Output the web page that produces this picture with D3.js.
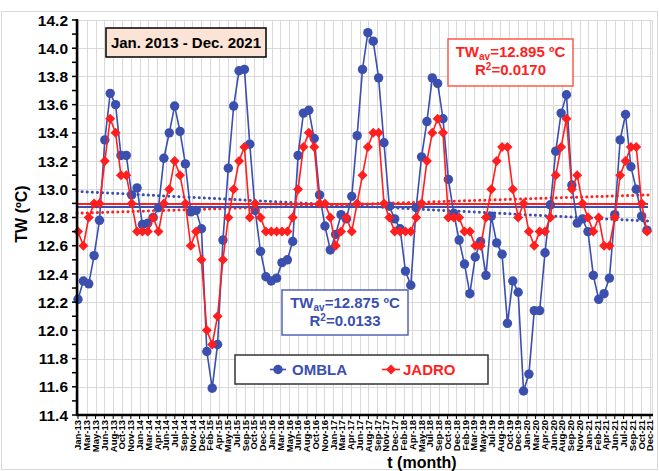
<!DOCTYPE html>
<html>
<head>
<meta charset="utf-8">
<title>OMBLA JADRO</title>
<script src="https://cdnjs.cloudflare.com/ajax/libs/d3/7.8.5/d3.min.js"></script>
<style>
body { margin: 0; background: #fff; font-family: "Liberation Sans", Arial, sans-serif; }
.grid line { stroke: #d9d9d9; stroke-width: 1; shape-rendering: crispEdges; }
.ylab { font-size: 15.5px; font-weight: bold; fill: #000; }
.xlab { font-size: 9.5px; font-weight: bold; fill: #000; }
.title { font-size: 16px; font-weight: bold; fill: #000; }
.box-text { font-size: 15px; font-weight: bold; }
.legend-text { font-size: 15px; font-weight: bold; }
</style>
</head>
<body>
<div class="content"></div>
<script>
// monthly water temperature (107 monthly samples, Jan-13 .. Dec-21)
var ombla = [12.22, 12.35, 12.33, 12.53, 12.78, 13.35, 13.68, 13.60, 13.24, 13.24, 12.96, 13.01,
             12.75, 12.76, 12.80, 12.87, 13.22, 13.40, 13.59, 13.41, 13.18, 12.84, 12.85, 12.72,
             11.85, 11.59, 11.90, 12.64, 13.15, 13.59, 13.84, 13.85, 13.32, 12.85, 12.56, 12.38,
             12.35, 12.37, 12.48, 12.50, 12.63, 13.24, 13.54, 13.56, 13.36, 12.96, 12.74, 12.57,
             12.68, 12.82, 12.79, 12.95, 13.38, 13.85, 14.11, 14.05, 13.79, 13.33, 12.88, 12.79,
             12.72, 12.42, 12.32, 12.87, 13.23, 13.48, 13.79, 13.75, 13.50, 13.07, 12.83, 12.64,
             12.47, 12.26, 12.52, 12.63, 12.39, 12.81, 12.62, 12.54, 12.05, 12.35, 12.27, 11.57,
             11.69, 12.14, 12.14, 12.55, 12.89, 13.27, 13.54, 13.67, 13.03, 12.76, 12.79, 12.70,
             12.39, 12.22, 12.26, 12.37, 12.82, 13.35, 13.53, 13.16, 13.00, 12.81, 12.71];
var jadro = [12.7, 12.6, 12.8, 12.9, 12.9, 13.2, 13.5, 13.4, 13.1, 13.1, 12.9, 12.7,
             12.7, 12.7, 12.8, 12.7, 12.9, 13.0, 13.2, 13.1, 12.9, 12.6, 12.7, 12.5,
             12.0, 11.9, 12.1, 12.5, 12.8, 13.0, 13.2, 13.3, 12.8, 12.9, 12.8, 12.7,
             12.7, 12.7, 12.7, 12.7, 12.8, 13.0, 13.3, 13.4, 13.3, 12.9, 12.9, 12.8,
             12.6, 12.7, 12.8, 12.7, 12.9, 13.1, 13.3, 13.4, 13.4, 12.9, 12.8, 12.7,
             12.7, 12.7, 12.7, 12.8, 12.9, 13.2, 13.4, 13.5, 13.4, 12.8, 12.8, 12.8,
             12.7, 12.7, 12.6, 12.6, 12.8, 13.0, 13.2, 13.3, 13.3, 13.0, 12.8, 12.9,
             12.7, 12.6, 12.7, 12.7, 12.8, 13.1, 13.3, 13.5, 13.0, 13.1, 12.9, 12.8,
             12.7, 12.8, 12.6, 12.6, 12.8, 13.1, 13.2, 13.3, 13.3, 12.9, 12.7];

// averages and linear trend ends (first month, last month)
var omblaMean = 12.875, jadroMean = 12.895;
var omblaTrend = [12.985, 12.775], jadroTrend = [12.83, 12.96];

var xLabels = ["Jan-13","Mar-13","May-13","Jun-13","Aug-13","Oct-13","Nov-13",
  "Jan-14","Mar-14","Apr-14","Jun-14","Jul-14","Sep-14","Nov-14","Dec-14",
  "Feb-15","Apr-15","May-15","Jul-15","Sep-15","Oct-15","Dec-15",
  "Jan-16","Mar-16","May-16","Jun-16","Aug-16","Oct-16","Nov-16",
  "Jan-17","Mar-17","Apr-17","Jun-17","Aug-17","Sep-17","Nov-17","Dec-17",
  "Feb-18","Apr-18","May-18","Jul-18","Sep-18","Oct-18","Dec-18",
  "Feb-19","Mar-19","May-19","Jul-19","Aug-19","Oct-19","Dec-19",
  "Jan-20","Mar-20","Apr-20","Jun-20","Aug-20","Sep-20","Nov-20",
  "Jan-21","Feb-21","Apr-21","Jun-21","Jul-21","Sep-21","Oct-21","Dec-21"];
var yTicks = d3.range(11.4, 14.21, 0.2).map(function (d) { return +d.toFixed(1); });
var yMinor = d3.range(11.4, 14.21, 0.1).map(function (d) { return +d.toFixed(1); });

var blue = "#3a4fae", red = "#ff1f1f";
var W = 659, H = 471;
var mLeft = 77, mRight = 652, mTop = 20, mBottom = 415;

var svg = d3.select(".content").append("svg").attr("width", W).attr("height", H);

// chart area outline
svg.append("rect").attr("x", 1.5).attr("y", 11.5).attr("width", W - 3).attr("height", H - 13)
  .attr("fill", "none").attr("stroke", "#d9d9d9");

var x = d3.scaleLinear().domain([0, ombla.length - 1]).range([mLeft + 1, mRight - 5]);
var xl = d3.scalePoint().domain(xLabels).range([mLeft + 1, mRight - 2]);
var y = d3.scaleLinear().domain([11.4, 14.2]).range([mBottom, mTop]);

// grid
var grid = svg.append("g").attr("class", "grid");
grid.selectAll(".gx").data(xLabels).enter().append("line")
  .attr("x1", function (d) { return Math.round(xl(d)) + 0.5; })
  .attr("x2", function (d) { return Math.round(xl(d)) + 0.5; })
  .attr("y1", mTop).attr("y2", mBottom);
grid.selectAll(".gy").data(yTicks).enter().append("line")
  .attr("x1", mLeft).attr("x2", mRight)
  .attr("y1", function (d) { return Math.round(y(d)) + 0.5; })
  .attr("y2", function (d) { return Math.round(y(d)) + 0.5; });
grid.append("line").attr("x1", mRight + 0.5).attr("x2", mRight + 0.5).attr("y1", mTop).attr("y2", mBottom);

// averages and trends
var lineEnd = x(ombla.length - 1) + 1;
function hline(v, col, w, dash) {
  svg.append("line").attr("x1", mLeft).attr("x2", lineEnd)
    .attr("y1", y(v[0])).attr("y2", y(v[1]))
    .attr("stroke", col).attr("stroke-width", w)
    .attr("stroke-linecap", dash ? "round" : "butt")
    .attr("stroke-dasharray", dash || null);
}
hline(omblaTrend, blue, 3, "0.1 5");
hline(jadroTrend, red, 3, "0.1 5");
hline([jadroMean, jadroMean], red, 2);
hline([omblaMean, omblaMean], blue, 2);

// series
var line = d3.line().x(function (d, i) { return x(i); }).y(function (d) { return y(d); });
svg.append("path").datum(ombla).attr("d", line).attr("fill", "none")
  .attr("stroke", blue).attr("stroke-width", 1.6);
svg.selectAll(".pt-o").data(ombla).enter().append("circle")
  .attr("cx", function (d, i) { return x(i); })
  .attr("cy", function (d) { return y(d); })
  .attr("r", 4.7).attr("fill", blue);

function diamond(cx, cy, r) {
  return "M" + cx + "," + (cy - r) + "L" + (cx + r) + "," + cy + "L" + cx + "," + (cy + r) + "L" + (cx - r) + "," + cy + "Z";
}
svg.append("path").datum(jadro).attr("d", line).attr("fill", "none")
  .attr("stroke", red).attr("stroke-width", 1.6);
svg.selectAll(".pt-j").data(jadro).enter().append("path")
  .attr("d", function (d, i) { return diamond(x(i), y(d), 5); })
  .attr("fill", red);

// axes
var ax = svg.append("g").attr("stroke", "#000");
ax.append("line").attr("x1", mLeft).attr("x2", mLeft).attr("y1", mTop - 1).attr("y2", mBottom + 1).attr("stroke-width", 2.5);
ax.append("line").attr("x1", mLeft - 1).attr("x2", mRight + 1).attr("y1", mBottom).attr("y2", mBottom).attr("stroke-width", 2.5);
ax.selectAll(".ty").data(yMinor).enter().append("line")
  .attr("x1", mLeft - 5).attr("x2", mLeft)
  .attr("y1", function (d) { return y(d); }).attr("y2", function (d) { return y(d); })
  .attr("stroke-width", 1.5);
ax.selectAll(".tx").data(xLabels).enter().append("line")
  .attr("x1", function (d) { return xl(d); }).attr("x2", function (d) { return xl(d); })
  .attr("y1", mBottom).attr("y2", mBottom + 4).attr("stroke-width", 1);

svg.selectAll(".ylab").data(yTicks).enter().append("text")
  .attr("class", "ylab").attr("x", mLeft - 9).attr("y", function (d) { return y(d); })
  .attr("dy", "0.36em").attr("text-anchor", "end")
  .text(function (d) { return d.toFixed(1); });

svg.selectAll(".xlab").data(xLabels).enter().append("text")
  .attr("class", "xlab")
  .attr("transform", function (d) { return "translate(" + xl(d) + "," + (mBottom + 5) + ") rotate(-90)"; })
  .attr("dy", "0.35em").attr("text-anchor", "end")
  .text(function (d) { return d; });

svg.append("text").attr("class", "title")
  .attr("transform", "translate(27,214) rotate(-90)").attr("text-anchor", "middle")
  .text("TW (ºC)");
svg.append("text").attr("class", "title").attr("x", 422).attr("y", 468)
  .attr("text-anchor", "middle").text("t (month)");

// period box
svg.append("rect").attr("x", 106).attr("y", 28).attr("width", 160).attr("height", 29)
  .attr("fill", "#fbe4d5").attr("stroke", "#000").attr("stroke-width", 1.5);
svg.append("text").attr("class", "box-text").attr("x", 186).attr("y", 48)
  .attr("text-anchor", "middle").attr("fill", "#000").text("Jan. 2013 - Dec. 2021");

function statBox(bx, by, bw, bh, col, border, mean, r2) {
  svg.append("rect").attr("x", bx).attr("y", by).attr("width", bw).attr("height", bh)
    .attr("fill", "#fff").attr("stroke", border).attr("stroke-width", 1.5);
  var t1 = svg.append("text").attr("class", "box-text").attr("fill", col)
    .attr("x", bx + bw / 2).attr("y", by + 18).attr("text-anchor", "middle");
  t1.append("tspan").text("TW");
  t1.append("tspan").attr("font-size", "10px").attr("dy", 3).text("av");
  t1.append("tspan").attr("dy", -3).text("=" + mean.toFixed(3) + " ºC");
  var t2 = svg.append("text").attr("class", "box-text").attr("fill", col)
    .attr("x", bx + bw / 2).attr("y", by + 36).attr("text-anchor", "middle");
  t2.append("tspan").text("R");
  t2.append("tspan").attr("font-size", "10px").attr("dy", -5).text("2");
  t2.append("tspan").attr("dy", 5).text("=" + r2);
}
statBox(448, 39, 125, 47, red, "#ff5a4a", jadroMean, "0.0170");
statBox(282, 290, 126, 45, blue, "#5563b8", omblaMean, "0.0133");

// legend
svg.append("rect").attr("x", 235).attr("y", 355).attr("width", 253).attr("height", 29)
  .attr("fill", "#fff").attr("stroke", "#333").attr("stroke-width", 1.5);
var lg = svg.append("g");
lg.append("line").attr("x1", 270).attr("x2", 286).attr("y1", 369.5).attr("y2", 369.5)
  .attr("stroke", blue).attr("stroke-width", 1.6);
lg.append("circle").attr("cx", 278).attr("cy", 369.5).attr("r", 4.7).attr("fill", blue);
lg.append("text").attr("class", "legend-text").attr("x", 292).attr("y", 375).attr("fill", blue).text("OMBLA");
lg.append("line").attr("x1", 382).attr("x2", 400).attr("y1", 369.5).attr("y2", 369.5)
  .attr("stroke", red).attr("stroke-width", 1.6);
lg.append("path").attr("d", diamond(391, 369.5, 5)).attr("fill", red);
lg.append("text").attr("class", "legend-text").attr("x", 403).attr("y", 375).attr("fill", red).text("JADRO");
</script>
</body>
</html>
